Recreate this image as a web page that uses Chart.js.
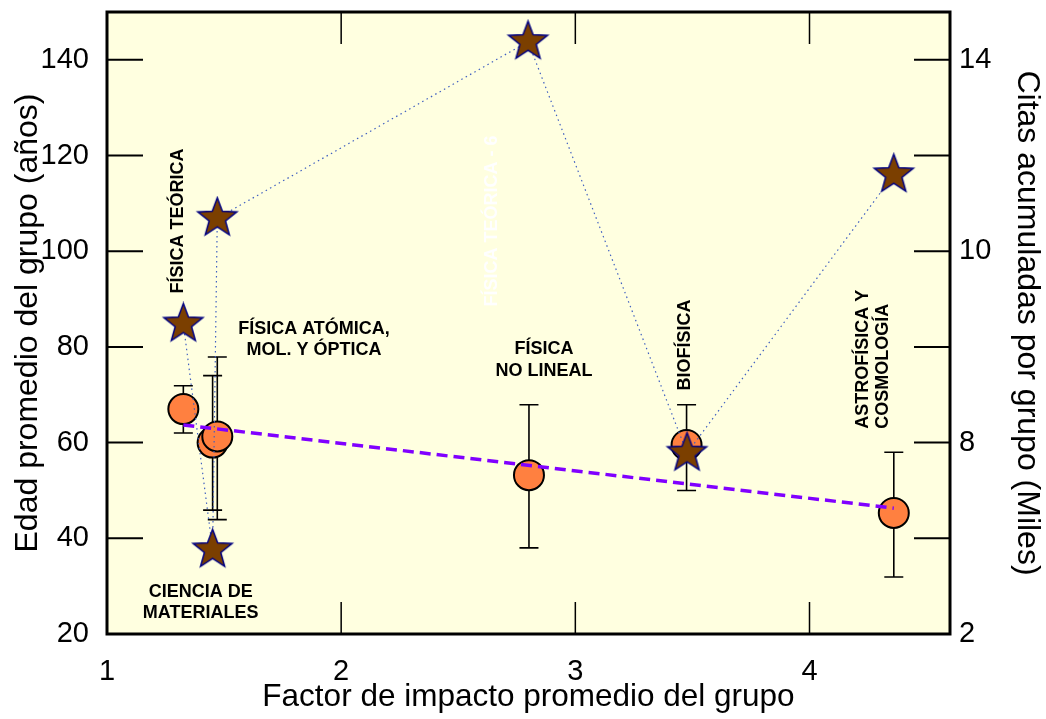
<!DOCTYPE html>
<html>
<head>
<meta charset="utf-8">
<script src="https://cdn.jsdelivr.net/npm/chart.js"></script>
<style>
  html, body { margin: 0; padding: 0; background: #fff; }
  #caja { width: 1046px; height: 719px; }
</style>
</head>
<body>
<div id="caja"><canvas id="grafico" width="1046" height="719"></canvas></div>
<script>
// grupos: factor de impacto promedio (x) y edad promedio (eje izq.) con su rango
const grupoFI  = [1.326, 1.451, 1.471, 2.802, 3.475, 4.36];
const edadProm = [67.0, 60.0, 61.3, 53.2, 59.5, 45.3];
const edadMin  = [62.0, 45.9, 43.9, 38.0, 50.0, 31.9];
const edadMax  = [71.9, 74.0, 77.9, 67.9, 67.9, 58.0];

// citas acumuladas por grupo (miles), eje derecho
const citasFI = [1.326, 1.451, 1.471, 2.798, 3.477, 4.36];
const citas   = [8.48, 3.76, 10.69, 14.38, 5.78, 11.6];

// recta de tendencia de la edad
const tendFI   = [1.326, 4.36];
const tendEdad = [63.7, 46.3];

// rotulos del eje derecho (tal como salen en la figura)
const citasTicks  = [2, 4, 6, 8, 10, 12, 14];
const citasLabels = ['2', '', '8', '', '10', '', '14'];

// nombres de los grupos (en coordenadas de datos: x, edad)
const rotulos = [
  { t: 'FÍSICA TEÓRICA',     x: 1.303, y: 106.3, vert: true,  al: 'center' },
  { t: 'FÍSICA ATÓMICA,',    x: 1.884, y: 83.8,  vert: false, al: 'center' },
  { t: 'MOL. Y ÓPTICA',      x: 1.884, y: 79.4,  vert: false, al: 'center' },
  { t: 'FÍSICA',             x: 2.866, y: 79.6,  vert: false, al: 'center' },
  { t: 'NO LINEAL',          x: 2.866, y: 75.0,  vert: false, al: 'center' },
  { t: 'BIOFÍSICA',          x: 3.468, y: 80.4,  vert: true,  al: 'center' },
  { t: 'ASTROFÍSICA Y',      x: 4.228, y: 62.9,  vert: true,  al: 'left' },
  { t: 'COSMOLOGÍA',         x: 4.313, y: 62.9,  vert: true,  al: 'left' },
  { t: 'CIENCIA DE',         x: 1.40,  y: 28.8,  vert: false, al: 'center' },
  { t: 'MATERIALES',         x: 1.40,  y: 24.4,  vert: false, al: 'center' },
  { t: 'FÍSICA TEÓRICA - 6', x: 2.644, y: 106.3, vert: true,  al: 'center', blanco: true }
];

const fuente = "'Liberation Sans', Arial, sans-serif";

// marcador de estrella rellena
function estrella(r) {
  const s = Math.ceil(r * 2 + 4);
  const c = document.createElement('canvas');
  c.width = s; c.height = s;
  const g = c.getContext('2d');
  g.translate(s / 2, s / 2);
  g.beginPath();
  for (let i = 0; i < 10; i++) {
    const rr = i % 2 === 0 ? r : r * 0.42;
    const a = -Math.PI / 2 + i * Math.PI / 5;
    g.lineTo(rr * Math.cos(a), rr * Math.sin(a));
  }
  g.closePath();
  g.fillStyle = '#7B3F00';
  g.fill();
  g.lineWidth = 1.5;
  g.strokeStyle = '#000080';
  g.stroke();
  return c;
}

const marco = {
  id: 'marco',
  beforeDraw(chart) {
    const { ctx, chartArea: a } = chart;
    ctx.save();
    ctx.fillStyle = '#FFFFE0';
    ctx.fillRect(a.left, a.top, a.width, a.height);
    ctx.restore();
  },
  beforeDatasetsDraw(chart) {
    // barras de error
    const { ctx } = chart;
    const sx = chart.scales.x, sy = chart.scales.y;
    ctx.save();
    ctx.strokeStyle = '#000';
    ctx.lineWidth = 1.6;
    for (let i = 0; i < grupoFI.length; i++) {
      const px = sx.getPixelForValue(grupoFI[i]);
      const p1 = sy.getPixelForValue(edadMin[i]);
      const p2 = sy.getPixelForValue(edadMax[i]);
      ctx.beginPath();
      ctx.moveTo(px, p1); ctx.lineTo(px, p2);
      ctx.moveTo(px - 9.5, p1); ctx.lineTo(px + 9.5, p1);
      ctx.moveTo(px - 9.5, p2); ctx.lineTo(px + 9.5, p2);
      ctx.stroke();
    }
    ctx.restore();
  },
  afterDatasetsDraw(chart) {
    const { ctx, chartArea: a } = chart;
    const sx = chart.scales.x, sy = chart.scales.y, sy2 = chart.scales.y2;
    ctx.save();
    // textos
    ctx.font = 'bold 18px ' + fuente;
    ctx.textBaseline = 'middle';
    rotulos.forEach(r => {
      const px = sx.getPixelForValue(r.x);
      const py = sy.getPixelForValue(r.y);
      ctx.fillStyle = r.blanco ? '#FFFFFF' : '#000000';
      ctx.textAlign = r.al;
      ctx.save();
      ctx.translate(px, py);
      if (r.vert) ctx.rotate(-Math.PI / 2);
      ctx.fillText(r.t, 0, 0);
      ctx.restore();
    });
    // marcas hacia adentro
    ctx.strokeStyle = '#000';
    ctx.lineWidth = 2;
    ctx.beginPath();
    sy.ticks.forEach(t => {
      const p = sy.getPixelForValue(t.value);
      ctx.moveTo(a.left, p); ctx.lineTo(a.left + 36, p);
    });
    sy2.ticks.forEach(t => {
      const p = sy2.getPixelForValue(t.value);
      ctx.moveTo(a.right, p); ctx.lineTo(a.right - 36, p);
    });
    ctx.stroke();
    ctx.lineWidth = 1.5;
    ctx.beginPath();
    sx.ticks.forEach(t => {
      const p = sx.getPixelForValue(t.value);
      ctx.moveTo(p, a.top); ctx.lineTo(p, a.top + 32);
      ctx.moveTo(p, a.bottom); ctx.lineTo(p, a.bottom - 32);
    });
    ctx.stroke();
    // marco
    ctx.lineWidth = 3;
    ctx.strokeRect(a.left, a.top, a.width, a.height);
    ctx.restore();
  }
};

const ctx = document.getElementById('grafico').getContext('2d');
new Chart(ctx, {
  type: 'scatter',
  data: {
    datasets: [
      {
        label: 'Citas acumuladas',
        data: citasFI.map((x, i) => ({ x: x, y: citas[i] })),
        yAxisID: 'y2',
        showLine: true,
        borderColor: '#3F5FC0',
        borderWidth: 1.2,
        borderDash: [1.5, 3.5],
        pointStyle: estrella(20.5),
        pointRadius: 20,
        order: 1
      },
      {
        label: 'Tendencia',
        data: tendFI.map((x, i) => ({ x: x, y: tendEdad[i] })),
        yAxisID: 'y',
        showLine: true,
        borderColor: '#8000FF',
        borderWidth: 3.5,
        borderDash: [11, 6],
        pointRadius: 0,
        order: 2
      },
      {
        label: 'Edad promedio',
        data: grupoFI.map((x, i) => ({ x: x, y: edadProm[i] })),
        yAxisID: 'y',
        backgroundColor: '#FF8040',
        borderColor: '#000000',
        pointBorderWidth: 2,
        pointRadius: 15,
        order: 3
      }
    ]
  },
  options: {
    responsive: false,
    animation: false,
    events: [],
    layout: { padding: { top: 12, left: 0, right: 0, bottom: 0 }, autoPadding: false },
    plugins: { legend: { display: false }, tooltip: { enabled: false } },
    scales: {
      x: {
        type: 'linear', position: 'bottom', min: 1, max: 4.6,
        grid: { display: false, drawTicks: false },
        border: { display: false },
        ticks: { stepSize: 1, includeBounds: false, autoSkip: false, maxRotation: 0,
                 padding: 21, color: '#000', font: { family: fuente, size: 29 } },
        title: { display: true, text: 'Factor de impacto promedio del grupo', color: '#000',
                 font: { family: fuente, size: 31.5 }, padding: { top: 0, bottom: 3 } },
        afterFit(s) { s.height = 85; s.paddingLeft = 0; s.paddingRight = 0; }
      },
      y: {
        type: 'linear', position: 'left', min: 20, max: 150,
        grid: { display: false, drawTicks: false },
        border: { display: false },
        ticks: { stepSize: 20, includeBounds: false, padding: 18, color: '#000',
                 font: { family: fuente, size: 29 } },
        title: { display: true, text: 'Edad promedio del grupo (años)', color: '#000',
                 font: { family: fuente, size: 32 }, padding: { top: 9, bottom: 0 } },
        afterFit(s) { s.width = 107; s.paddingTop = 0; s.paddingBottom = 0; }
      },
      y2: {
        type: 'linear', position: 'right', min: 2, max: 15,
        grid: { display: false, drawTicks: false },
        border: { display: false },
        ticks: { stepSize: 2, includeBounds: false, padding: 9, color: '#000',
                 font: { family: fuente, size: 29 },
                 callback: v => { const k = citasTicks.indexOf(v); return k >= 0 ? citasLabels[k] : ''; } },
        title: { display: true, text: 'Citas acumuladas por grupo (Miles)', color: '#000',
                 font: { family: fuente, size: 32 }, padding: { top: 0, bottom: 0 } },
        afterFit(s) { s.width = 96; s.paddingTop = 0; s.paddingBottom = 0; }
      }
    }
  },
  plugins: [marco]
});
</script>
</body>
</html>
